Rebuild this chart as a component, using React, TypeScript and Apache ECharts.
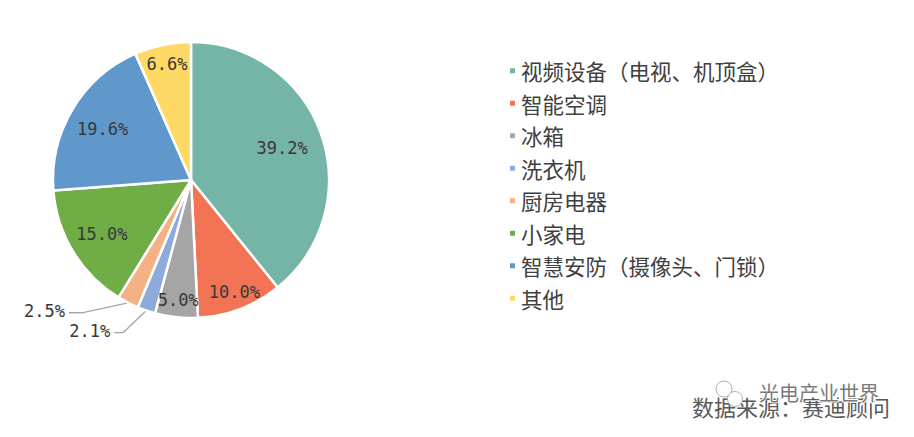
import React, { useEffect, useRef } from "react";
import * as echarts from "echarts";

const categories = [
  "视频设备（电视、机顶盒）",
  "智能空调",
  "冰箱",
  "洗衣机",
  "厨房电器",
  "小家电",
  "智慧安防（摄像头、门锁）",
  "其他",
];
const shares = [39.2, 10.0, 5.0, 2.1, 2.5, 15.0, 19.6, 6.6];
const colors = ["#75B5A7", "#F27455", "#A5A5A5", "#8EAADB", "#F4B183", "#70AD47", "#6198CC", "#FFD966"];
const sourceText = "数据来源：赛迪顾问";
const watermarkText = "光电产业世界";

// which slices get an outside label with leader line
const outsideIdx = [3, 4];
// label nudges (inside labels) per slice
const insideNudge: Record<number, [number, number]> = {
  0: [-5, 2],
  1: [7, 17],
  2: [-2, 19],
  5: [-2, 1],
  6: [-1, 1],
  7: [-3, -16],
};
// leader line shape for outside labels: [elbow dx, elbow dy, horizontal length]
const leaderShape: Record<number, [number, number, number]> = {
  3: [-23, 22, 9],
  4: [-46, 10, 13],
};

const labelFont = {
  fontFamily: "DejaVu Sans Mono",
  fontSize: 17,
  color: "#383838",
};

export default function App() {
  const ref = useRef<HTMLDivElement>(null);
  useEffect(() => {
    document.body.style.margin = "0";
    const chart = echarts.init(ref.current!, null, { renderer: "svg" });
    const center = [191, 180];
    const mainData = categories.map((name, i) => ({
      name,
      value: shares[i],
      itemStyle: { color: colors[i] },
      label: { show: outsideIdx.includes(i) },
      labelLine: { show: outsideIdx.includes(i) },
    }));
    const overlayData = categories.map((name, i) => ({
      name,
      value: shares[i],
      label: { show: !outsideIdx.includes(i) },
    }));
    chart.setOption({
      animation: false,
      legend: {
        orient: "vertical",
        left: 503,
        top: 55,
        itemWidth: 7,
        itemHeight: 7,
        itemGap: 11,
        icon: "rect",
        data: categories,
        selectedMode: false,
        textStyle: {
          fontFamily: "Noto Sans CJK SC",
          fontSize: 21.5,
          color: "#404040",
        },
      },
      series: [
        {
          type: "pie",
          center,
          radius: 138,
          startAngle: 90,
          clockwise: true,
          silent: true,
          itemStyle: { borderColor: "#ffffff", borderWidth: 2.5 },
          label: {
            position: "outside",
            formatter: (p: any) => p.value.toFixed(1) + "%",
            ...labelFont,
          },
          labelLine: {
            length: 10,
            length2: 10,
            lineStyle: { color: "#A6A6A6", width: 1.3 },
          },
          labelLayout: (params: any) => {
            const s = leaderShape[params.dataIndex];
            if (!s || !params.labelLinePoints) return {};
            const p0 = params.labelLinePoints[0];
            const elbow = [p0[0] + s[0], p0[1] + s[1]];
            const end = [elbow[0] - s[2], elbow[1]];
            return {
              x: end[0] - 4,
              y: end[1] - 2,
              align: "right",
              verticalAlign: "middle",
              labelLinePoints: [p0, elbow, end],
            };
          },
          data: mainData,
        },
        {
          type: "pie",
          center,
          radius: [60, 138],
          startAngle: 90,
          clockwise: true,
          silent: true,
          itemStyle: { color: "transparent", borderWidth: 0 },
          label: {
            position: "inside",
            formatter: (p: any) => p.value.toFixed(1) + "%",
            ...labelFont,
          },
          labelLine: { show: false },
          labelLayout: (params: any) => {
            const n = insideNudge[params.dataIndex];
            if (!n) return {};
            return { dx: n[0], dy: n[1] };
          },
          data: overlayData,
        },
      ],
      graphic: [
        {
          type: "text",
          left: 692,
          top: 395,
          style: {
            text: sourceText,
            fontFamily: "Noto Sans CJK SC",
            fontSize: 22,
            fill: "#595959",
          },
        },
        {
          type: "circle",
          shape: { cx: 724, cy: 389, r: 8 },
          style: { fill: "#ffffff", stroke: "#b0b0b0", lineWidth: 1 },
        },
        {
          type: "circle",
          shape: { cx: 735, cy: 399, r: 7.5 },
          style: { fill: "#ffffff", stroke: "#b0b0b0", lineWidth: 1 },
        },
        {
          type: "text",
          left: 758,
          top: 381,
          style: {
            text: watermarkText,
            fontFamily: "Noto Sans CJK SC",
            fontSize: 20,
            fill: "#7a7a7a",
            stroke: "#ffffff",
            lineWidth: 2,
          },
        },
      ],
    });
    return () => chart.dispose();
  }, []);
  return <div ref={ref} style={{ width: 914, height: 437 }} />;
}
